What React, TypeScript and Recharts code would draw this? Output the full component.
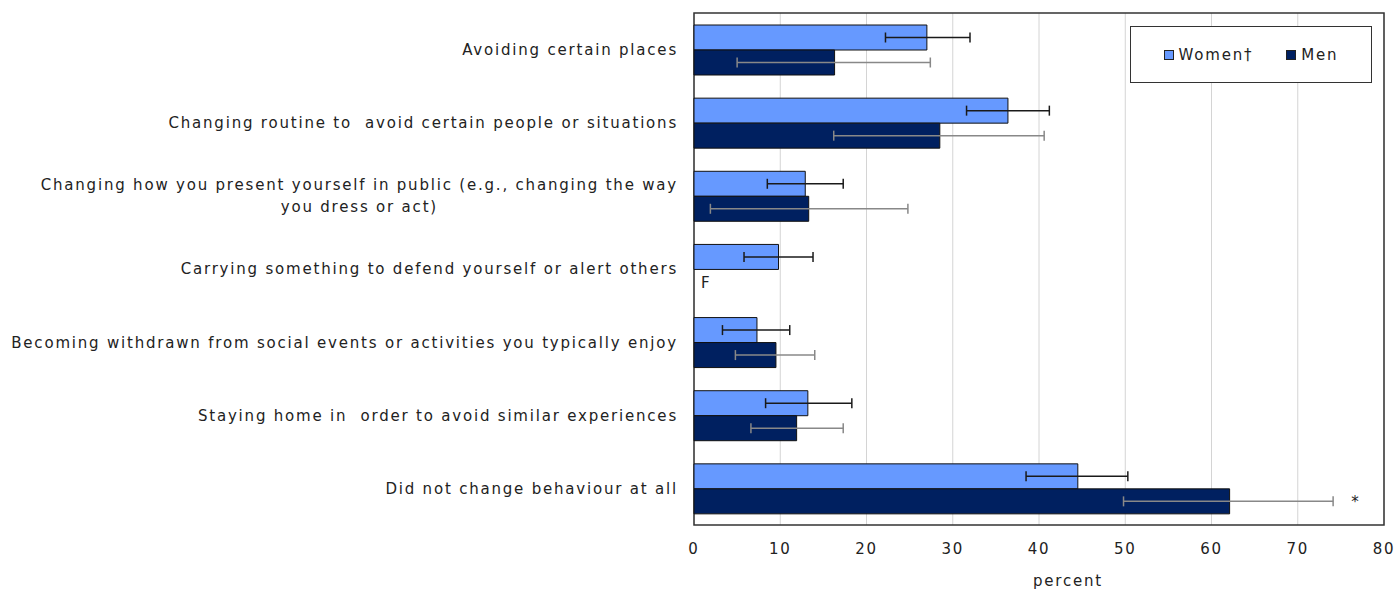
import React from 'react';
import {
  BarChart,
  Bar,
  XAxis,
  YAxis,
  CartesianGrid,
  ErrorBar,
  Legend,
  ReferenceArea,
  ReferenceDot,
} from 'recharts';

// Behaviour changes after the experience, by gender (percent)
const categories: string[] = [
  'Avoiding certain places',
  'Changing routine to  avoid certain people or situations',
  'Changing how you present yourself in public (e.g., changing the way\nyou dress or act)',
  'Carrying something to defend yourself or alert others',
  'Becoming withdrawn from social events or activities you typically enjoy',
  'Staying home in  order to avoid similar experiences',
  'Did not change behaviour at all',
];

const womenValues: number[] = [27.0, 36.4, 12.9, 9.8, 7.3, 13.2, 44.5];
const womenLow: number[] = [22.2, 31.6, 8.5, 5.8, 3.3, 8.3, 38.5];
const womenHigh: number[] = [32.0, 41.2, 17.3, 13.8, 11.1, 18.3, 50.3];

const menValues: (number | null)[] = [16.3, 28.5, 13.3, null, 9.5, 11.9, 62.1];
const menLow: (number | null)[] = [5.0, 16.2, 1.9, null, 4.8, 6.6, 49.8];
const menHigh: (number | null)[] = [27.4, 40.6, 24.8, null, 14.0, 17.3, 74.1];
// F = too unreliable to be published, * = significantly different from reference category
const menNotes: string[] = ['', '', '', 'F', '', '', '*'];

const xTicks: number[] = [0, 10, 20, 30, 40, 50, 60, 70, 80];

const WOMEN_COLOR = '#6699ff';
const MEN_COLOR = '#002060';
const FONT = "'DejaVu Sans', Verdana, sans-serif";
const FONT_SIZE = 15;
const LETTER_SPACING = 1.8;
const TEXT_COLOR = '#222';
const BAR_SIZE = 25;

const rows = categories.map((label, i) => {
  const m = menValues[i];
  const lo = menLow[i];
  const hi = menHigh[i];
  return {
    label,
    women: womenValues[i],
    womenErr: [womenValues[i] - womenLow[i], womenHigh[i] - womenValues[i]],
    men: m,
    menErr: m != null && lo != null && hi != null ? [m - lo, hi - m] : null,
  };
});

let measureCtx: CanvasRenderingContext2D | null = null;
function measure(text: string): number {
  if (!measureCtx) {
    const c = document.createElement('canvas');
    measureCtx = c.getContext('2d');
  }
  if (!measureCtx) return text.length * 9;
  measureCtx.font = `${FONT_SIZE}px ${FONT}`;
  return measureCtx.measureText(text).width + LETTER_SPACING * text.length;
}

const textStyle = { letterSpacing: `${LETTER_SPACING}px`, whiteSpace: 'pre' as const };

const CategoryTick = (props: any) => {
  const { x, y, payload } = props;
  const lines = String(payload.value).split('\n');
  const common = {
    fill: TEXT_COLOR,
    fontSize: FONT_SIZE,
    fontFamily: FONT,
    style: textStyle,
  };
  if (lines.length === 1) {
    return (
      <text x={x} y={y} dy="0.36em" textAnchor="end" {...common}>
        {lines[0]}
      </text>
    );
  }
  const blockWidth = Math.max(...lines.map(measure));
  const cx = x - blockWidth / 2;
  const lineHeight = 22;
  return (
    <text textAnchor="middle" {...common}>
      {lines.map((line, i) => (
        <tspan key={i} x={cx} y={y + (i - (lines.length - 1) / 2) * lineHeight} dy="0.36em">
          {line}
        </tspan>
      ))}
    </text>
  );
};

// Note marker drawn beside the men's bar of a category
const noteShape = (note: string) => (props: any) => {
  const { cx, cy } = props;
  const barCenter = Number(cy) + BAR_SIZE / 2;
  if (note === 'F') {
    return (
      <text x={Number(cx) + 7} y={barCenter + 6} fill={TEXT_COLOR} fontSize={FONT_SIZE} fontFamily={FONT}>
        F
      </text>
    );
  }
  return (
    <text x={Number(cx) + 22} y={barCenter + 6} textAnchor="middle" fill={TEXT_COLOR} fontSize={FONT_SIZE} fontFamily={FONT}>
      {note}
    </text>
  );
};

const legendOrder = ['Women†', 'Men'];

const LegendBox = (props: any) => {
  const items = ([...(props.payload || [])] as any[]).sort(
    (a, b) => legendOrder.indexOf(a.value) - legendOrder.indexOf(b.value)
  );
  return (
    <div
      style={{
        width: 242,
        height: 57,
        boxSizing: 'border-box',
        border: '1.5px solid #333',
        background: '#fff',
        display: 'flex',
        alignItems: 'center',
        justifyContent: 'center',
        fontFamily: FONT,
        fontSize: FONT_SIZE,
        letterSpacing: `${LETTER_SPACING}px`,
        color: TEXT_COLOR,
      }}
    >
      {items.map((it, i) => (
        <div key={i} style={{ display: 'flex', alignItems: 'center', marginRight: i < items.length - 1 ? 33 : 0 }}>
          <span
            style={{
              display: 'inline-block',
              width: 8,
              height: 8,
              background: it.color,
              border: '1px solid #222',
              marginRight: 5,
            }}
          />
          <span>{it.value}</span>
        </div>
      ))}
    </div>
  );
};

const PercentLabel = (props: any) => {
  const vb = props.viewBox || {};
  return (
    <text
      x={vb.x + vb.width / 2 + 29}
      y={vb.y + 61}
      textAnchor="middle"
      fill={TEXT_COLOR}
      fontSize={FONT_SIZE}
      fontFamily={FONT}
      style={textStyle}
    >
      percent
    </text>
  );
};

export default function App() {
  return (
    <div style={{ position: 'absolute', left: 0, top: 0, fontFamily: FONT, background: '#fff' }}>
      <BarChart
        width={1398}
        height={589}
        data={rows}
        layout="vertical"
        margin={{ top: 13, right: 14, bottom: 0, left: 0 }}
        barSize={BAR_SIZE}
        barGap={0}
      >
        <CartesianGrid horizontal={false} stroke="#d4d4d4" strokeWidth={1} />
        <XAxis
          type="number"
          domain={[0, 80]}
          ticks={xTicks}
          interval={0}
          tickLine={false}
          axisLine={false}
          tickMargin={12}
          height={64}
          tick={{ fill: TEXT_COLOR, fontSize: FONT_SIZE, fontFamily: FONT, style: textStyle }}
          label={<PercentLabel />}
        />
        <YAxis
          type="category"
          dataKey="label"
          width={694}
          tickLine={false}
          axisLine={false}
          tickMargin={10}
          interval={0}
          tick={<CategoryTick />}
        />
        <ReferenceArea x1={0} x2={80} fill="none" stroke="#333" strokeWidth={1.5} ifOverflow="visible" />
        <Legend
          layout="vertical"
          align="center"
          verticalAlign="middle"
          wrapperStyle={{ left: 1130, top: 26, width: 242, height: 57 }}
          content={<LegendBox />}
        />
        <Bar dataKey="women" name="Women†" fill={WOMEN_COLOR} stroke="#111" strokeWidth={1} isAnimationActive={false}>
          <ErrorBar dataKey="womenErr" direction="x" width={5} stroke="#1a1a1a" strokeWidth={1.5} isAnimationActive={false} />
        </Bar>
        <Bar dataKey="men" name="Men" fill={MEN_COLOR} stroke="#111" strokeWidth={1} isAnimationActive={false}>
          <ErrorBar dataKey="menErr" direction="x" width={5} stroke="#888" strokeWidth={1.5} isAnimationActive={false} />
        </Bar>
        {menNotes.map((note, i) =>
          note ? (
            <ReferenceDot
              key={i}
              x={note === 'F' ? 0 : (menHigh[i] as number)}
              y={categories[i]}
              ifOverflow="visible"
              shape={noteShape(note)}
            />
          ) : null
        )}
      </BarChart>
    </div>
  );
}
